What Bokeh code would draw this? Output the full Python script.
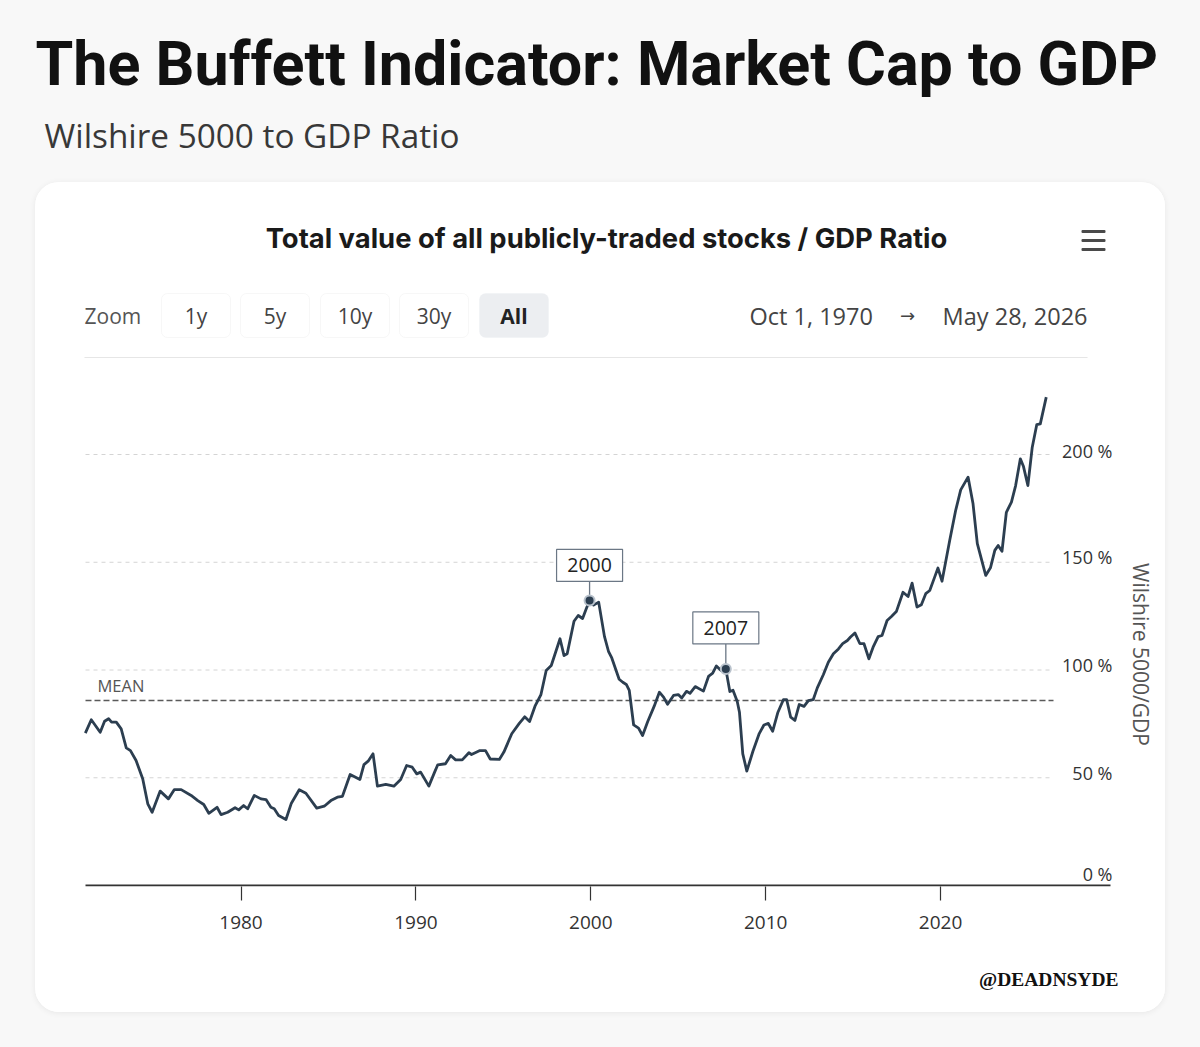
import math
from bokeh.plotting import figure
from bokeh.layouts import column
from bokeh.models import Range1d, FixedTicker, Label, BoxAnnotation
from bokeh.core.properties import value
from bokeh.embed import file_html
from bokeh.resources import INLINE

# ---------------- data ----------------
years = [1971.10, 1971.44, 1971.95, 1972.20, 1972.43, 1972.60, 1972.87, 1973.15, 1973.44, 1973.68,
         1974.00, 1974.38, 1974.67, 1974.92, 1975.38, 1975.85, 1976.19, 1976.58, 1977.15, 1977.53,
         1977.87, 1978.16, 1978.63, 1978.86, 1979.24, 1979.66, 1979.87, 1980.15, 1980.38, 1980.76,
         1981.14, 1981.43, 1981.71, 1981.90, 1982.15, 1982.57, 1982.88, 1983.33, 1983.71, 1984.33,
         1984.76, 1985.14, 1985.51, 1985.80, 1986.24, 1986.80, 1987.03, 1987.27, 1987.55, 1987.80,
         1988.28, 1988.74, 1989.13, 1989.47, 1989.79, 1990.05, 1990.27, 1990.74, 1991.07, 1991.25,
         1991.69, 1991.99, 1992.27, 1992.65, 1993.03, 1993.18, 1993.66, 1993.98, 1994.25, 1994.77,
         1995.03, 1995.48, 1995.91, 1996.22, 1996.50, 1996.81, 1997.15, 1997.45, 1997.74, 1998.24,
         1998.47, 1998.65, 1999.04, 1999.28, 1999.53, 1999.74, 1999.93, 2000.16, 2000.45, 2000.78,
         2001.01, 2001.20, 2001.62, 2001.83, 2002.03, 2002.20, 2002.45, 2002.73, 2002.96, 2003.25,
         2003.62, 2003.92, 2004.16, 2004.39, 2004.73, 2005.00, 2005.20, 2005.47, 2005.67, 2005.97,
         2006.44, 2006.73, 2006.97, 2007.18, 2007.45, 2007.72, 2007.95, 2008.13, 2008.37, 2008.50,
         2008.69, 2008.92, 2009.27, 2009.63, 2009.90, 2010.15, 2010.40, 2010.70, 2011.01, 2011.20,
         2011.43, 2011.67, 2011.92, 2012.19, 2012.44, 2012.72, 2012.95, 2013.30, 2013.58, 2013.87,
         2014.16, 2014.40, 2014.67, 2014.85, 2015.10, 2015.38, 2015.62, 2015.90, 2016.14, 2016.43,
         2016.65, 2016.94, 2017.19, 2017.47, 2017.85, 2018.14, 2018.37, 2018.65, 2018.90, 2019.15,
         2019.38, 2019.66, 2019.85, 2020.08, 2020.52, 2020.86, 2021.15, 2021.57, 2021.85, 2022.10,
         2022.58, 2022.85, 2023.10, 2023.29, 2023.51, 2023.76, 2024.05, 2024.29, 2024.56, 2024.74,
         2024.99, 2025.24, 2025.50, 2025.70, 2026.04]
ratio = [70.7, 76.9, 71.1, 76.2, 77.4, 75.8, 75.8, 72.7, 63.9, 62.6,
         58.0, 49.5, 37.9, 34.0, 43.8, 40.2, 44.5, 44.5, 41.8, 39.4,
         37.6, 33.5, 36.3, 32.9, 34.0, 36.1, 35.1, 37.1, 35.6, 41.8,
         40.2, 39.9, 36.3, 35.6, 32.5, 30.6, 38.2, 44.4, 42.8, 35.9,
         36.8, 39.4, 41.0, 41.4, 51.5, 49.2, 56.1, 57.7, 61.1, 46.1,
         46.9, 46.1, 49.2, 55.7, 54.9, 51.8, 52.6, 46.1, 52.6, 56.0,
         56.5, 60.3, 58.3, 58.3, 61.6, 60.8, 62.6, 62.6, 58.7, 58.5,
         61.9, 70.4, 75.2, 78.3, 76.1, 83.2, 88.6, 99.8, 102.1, 114.5,
         106.7, 107.5, 122.6, 125.3, 123.9, 128.4, 132.3, 130.1, 131.5, 115.6,
         108.7, 105.6, 95.7, 94.3, 93.3, 90.5, 74.5, 73.0, 69.6, 76.0,
         83.1, 89.7, 87.4, 84.1, 88.2, 88.6, 87.0, 90.1, 89.2, 92.3,
         90.2, 97.0, 98.5, 101.9, 99.8, 100.5, 90.0, 90.6, 85.5, 80.4,
         61.1, 53.1, 62.3, 70.5, 74.5, 75.2, 71.6, 80.4, 86.2, 86.2,
         78.1, 76.6, 84.0, 83.1, 85.8, 86.3, 91.7, 97.9, 103.6, 107.5,
         109.8, 112.2, 113.7, 115.3, 117.2, 112.3, 112.2, 105.2, 110.6, 115.5,
         116.0, 123.0, 124.8, 127.1, 136.1, 134.1, 140.3, 129.2, 130.3, 135.4,
         136.9, 143.1, 147.3, 141.2, 160.1, 174.0, 183.6, 189.5, 177.4, 158.6,
         143.9, 147.4, 155.5, 157.8, 155.1, 173.2, 177.9, 185.6, 198.0, 194.4,
         185.6, 203.4, 213.9, 214.2, 226.6]
mean_ratio = 85.8
peak_years = [1999.93, 2007.72]
peak_values = [132.3, 100.5]
peak_labels = ["2000", "2007"]
x_ticks = [1980, 1990, 2000, 2010, 2020]
y_ticks = [0, 50, 100, 150, 200]
y_tick_labels = ["0 %", "50 %", "100 %", "150 %", "200 %"]
grid_ticks = [50, 100, 150, 200]
zoom_buttons = ["1y", "5y", "10y", "30y", "All"]

title_text = "The Buffett Indicator: Market Cap to GDP"
subtitle_text = "Wilshire 5000 to GDP Ratio"
chart_title_text = "Total value of all publicly-traded stocks / GDP Ratio"
axis_title_text = "Wilshire 5000/GDP"
watermark_text = "@DEADNSYDE"
date_from, date_to = "Oct 1, 1970", "May 28, 2026"

# ---------------- layout (page pixels) ----------------
W, H = 1200, 1047
CARD_L, CARD_R, CARD_T, CARD_B = 35, 1165, 182, 1012
AXIS_PX = 885          # page y of the 0 % line
FRAME_B = 886          # page y of the chart frame bottom
AXIS_PANEL = 56        # room for ticks and tick labels
PX_YEAR = 17.49
X1980 = 240.5
PX_PCT = 2.155
GRID_END_PX = 1053
LINE_COLOR = "#2c3e50"
PAGE_BG = "#f8f8f8"

# chart figure: frame spans the whole card width and the card from its top to the axis
xs = 1980 - (X1980 - CARD_L) / PX_YEAR
xe = 1980 + (CARD_R - X1980) / PX_YEAR


def X(px):
    return xs + (px - CARD_L) / PX_YEAR


def Y(py):
    return (AXIS_PX - py) / PX_PCT


chart_w = CARD_R - CARD_L
chart_h = (FRAME_B - CARD_T) + AXIS_PANEL

p = figure(width=chart_w, height=chart_h, x_range=Range1d(xs, xe),
           y_range=Range1d(Y(FRAME_B), Y(CARD_T)), title=None,
           output_backend="svg", toolbar_location=None, y_axis_location=None,
           min_border_left=0, min_border_right=0, min_border_top=0,
           min_border_bottom=AXIS_PANEL)
p.outline_line_color = None
p.background_fill_color = "white"
p.border_fill_color = "white"
p.grid.visible = False

# card header
p.add_layout(Label(x=X(606), y=Y(237), text=chart_title_text, text_font="Inter",
                   text_font_size="27.4px", text_font_style="bold", text_color="#1a1a1a",
                   text_baseline="middle", text_align="center"))
for cy in (231, 240, 249):
    p.add_layout(BoxAnnotation(left=X(1081), right=X(1105), top=Y(cy - 1.5), bottom=Y(cy + 1.5),
                               fill_color="#4a4a4a", fill_alpha=1, line_color=None,
                               border_radius=1))
p.add_layout(Label(x=X(84), y=Y(315), text="Zoom", text_font="Open Sans",
                   text_font_size="21px", text_color="#555555",
                   text_baseline="middle", text_align="left"))
BTN_LEFT = [161, 240, 320, 399, 479]
BTN_W = 69
for i, lab in enumerate(zoom_buttons):
    sel = lab == "All"
    p.add_layout(BoxAnnotation(left=X(BTN_LEFT[i]), right=X(BTN_LEFT[i] + BTN_W),
                               top=Y(293), bottom=Y(337),
                               fill_color="#eceef1" if sel else "white", fill_alpha=1,
                               line_color="#eceef1" if sel else "#e3e3e3", line_width=1,
                               border_radius=6))
    p.add_layout(Label(x=X(BTN_LEFT[i] + BTN_W / 2), y=Y(315), text=lab,
                       text_font="Open Sans", text_font_size="21px",
                       text_font_style="bold" if sel else "normal",
                       text_color="#222222" if sel else "#444444",
                       text_baseline="middle", text_align="center"))
p.add_layout(Label(x=X(749), y=Y(315), text=date_from, text_font="Open Sans",
                   text_font_size="23.5px", text_color="#444444",
                   text_baseline="middle", text_align="left"))
p.add_layout(Label(x=X(907), y=Y(315), text="→", text_font="DejaVu Sans",
                   text_font_size="18px", text_color="#444444",
                   text_baseline="middle", text_align="center"))
p.add_layout(Label(x=X(1087), y=Y(315), text=date_to, text_font="Open Sans",
                   text_font_size="23.5px", text_color="#444444",
                   text_baseline="middle", text_align="right"))
p.add_layout(BoxAnnotation(left=X(84), right=X(1087), top=Y(356.5), bottom=Y(357.5),
                           fill_color="#e6e6e6", fill_alpha=1, line_color=None))

# mean label and vertical axis title
p.add_layout(Label(x=X(97), y=Y(685), text="MEAN", text_font="Open Sans",
                   text_font_size="16.5px", text_color="#555555",
                   text_baseline="middle", text_align="left"))
p.add_layout(Label(x=X(1140), y=Y(654), text=axis_title_text, text_font="Open Sans",
                   text_font_size="21px", text_color="#555555", angle=-math.pi / 2,
                   text_baseline="middle", text_align="center"))

# grid, mean, tick labels
p.segment(x0=[X(85)] * len(grid_ticks), y0=grid_ticks, x1=[X(GRID_END_PX)] * len(grid_ticks),
          y1=grid_ticks, line_color="#d4d4d4", line_width=1, line_dash="4 4")
p.segment(x0=[X(85)], y0=[mean_ratio], x1=[X(GRID_END_PX)], y1=[mean_ratio],
          line_color="#5a5a5a", line_width=1.5, line_dash="6 3")
LIFT = [12, 5, 5, 5, 4]
p.text(x=[X(1112)] * len(y_ticks), y=[t + LIFT[i] / PX_PCT for i, t in enumerate(y_ticks)],
       text=y_tick_labels, text_font=value("Open Sans"), text_font_size="18px",
       text_color="#333333", text_align="right", text_baseline="middle")
# the 0 % axis line
p.segment(x0=[X(85)], y0=[0], x1=[X(1110)], y1=[0], line_color="#333333", line_width=1.8)

# data line
p.line(years, ratio, line_color=LINE_COLOR, line_width=2.8, line_join="round")

# callouts
CALLOUT_LIFT = [35, 41]
BOX_W, BOX_H = 66, 32
box_y = [v + CALLOUT_LIFT[i] / PX_PCT for i, v in enumerate(peak_values)]
stem_top = [v + (CALLOUT_LIFT[i] - BOX_H / 2) / PX_PCT for i, v in enumerate(peak_values)]
p.segment(x0=peak_years, y0=peak_values, x1=peak_years, y1=stem_top,
          line_color="#6b7785", line_width=1.3)
p.rect(x=peak_years, y=box_y, width=BOX_W, height=BOX_H, width_units="screen",
       height_units="screen", fill_color="white", line_color="#6b7785", line_width=1.2)
p.text(x=peak_years, y=box_y, text=peak_labels, text_font=value("Open Sans"),
       text_font_size="19.5px", text_color="#222222", text_align="center",
       text_baseline="middle")
p.scatter(x=peak_years, y=peak_values, size=10, fill_color=LINE_COLOR,
          line_color="#b9c2cc", line_width=2)

# x axis (ticks + labels; its line replaced by the shorter segment above)
ax = p.xaxis[0]
ax.ticker = FixedTicker(ticks=x_ticks)
ax.axis_line_color = None
ax.major_tick_line_color = "#333333"
ax.major_tick_line_width = 1.2
ax.major_tick_out = 14
ax.major_tick_in = 0
ax.minor_tick_line_color = None
ax.major_label_standoff = 15
ax.major_label_text_font = "Open Sans"
ax.major_label_text_font_size = "19px"
ax.major_label_text_color = "#333333"

# heading figure (page title and subtitle), page-pixel coordinates
top_h = CARD_T
head = figure(width=W, height=top_h, x_range=Range1d(0, W), y_range=Range1d(top_h, 0),
              title=None, output_backend="svg", toolbar_location=None,
              x_axis_location=None, y_axis_location=None, min_border=0)
head.outline_line_color = None
head.background_fill_color = PAGE_BG
head.border_fill_color = PAGE_BG
head.grid.visible = False
head.add_layout(Label(x=35, y=63, text=title_text, text_font="Roboto",
                      text_font_size="61px", text_font_style="bold", text_color="#111111",
                      text_baseline="middle", text_align="left"))
head.add_layout(Label(x=44, y=134, text=subtitle_text, text_font="Open Sans",
                      text_font_size="33.3px", text_color="#383838",
                      text_baseline="middle", text_align="left"))

# card footer (watermark), page-pixel coordinates
foot_t = CARD_T + chart_h
foot = figure(width=chart_w, height=CARD_B - foot_t, x_range=Range1d(CARD_L, CARD_R),
              y_range=Range1d(CARD_B, foot_t), title=None, output_backend="svg",
              toolbar_location=None, x_axis_location=None, y_axis_location=None, min_border=0)
foot.outline_line_color = None
foot.background_fill_color = "white"
foot.border_fill_color = "white"
foot.grid.visible = False
foot.add_layout(Label(x=1118, y=979, text=watermark_text, text_font="Liberation Serif",
                      text_font_size="19.5px", text_font_style="bold", text_color="#111111",
                      text_baseline="alphabetic", text_align="right"))

card = column(p, foot, margin=(0, W - CARD_R, H - CARD_B, CARD_L),
              styles={"border-radius": "24px", "overflow": "hidden",
                      "box-shadow": "0 1px 6px rgba(0,0,0,0.07)",
                      "background-color": "white"})
root = column(head, card, width=W, height=H, styles={"background-color": PAGE_BG})

open("out.html", "w").write(file_html(root, INLINE))
